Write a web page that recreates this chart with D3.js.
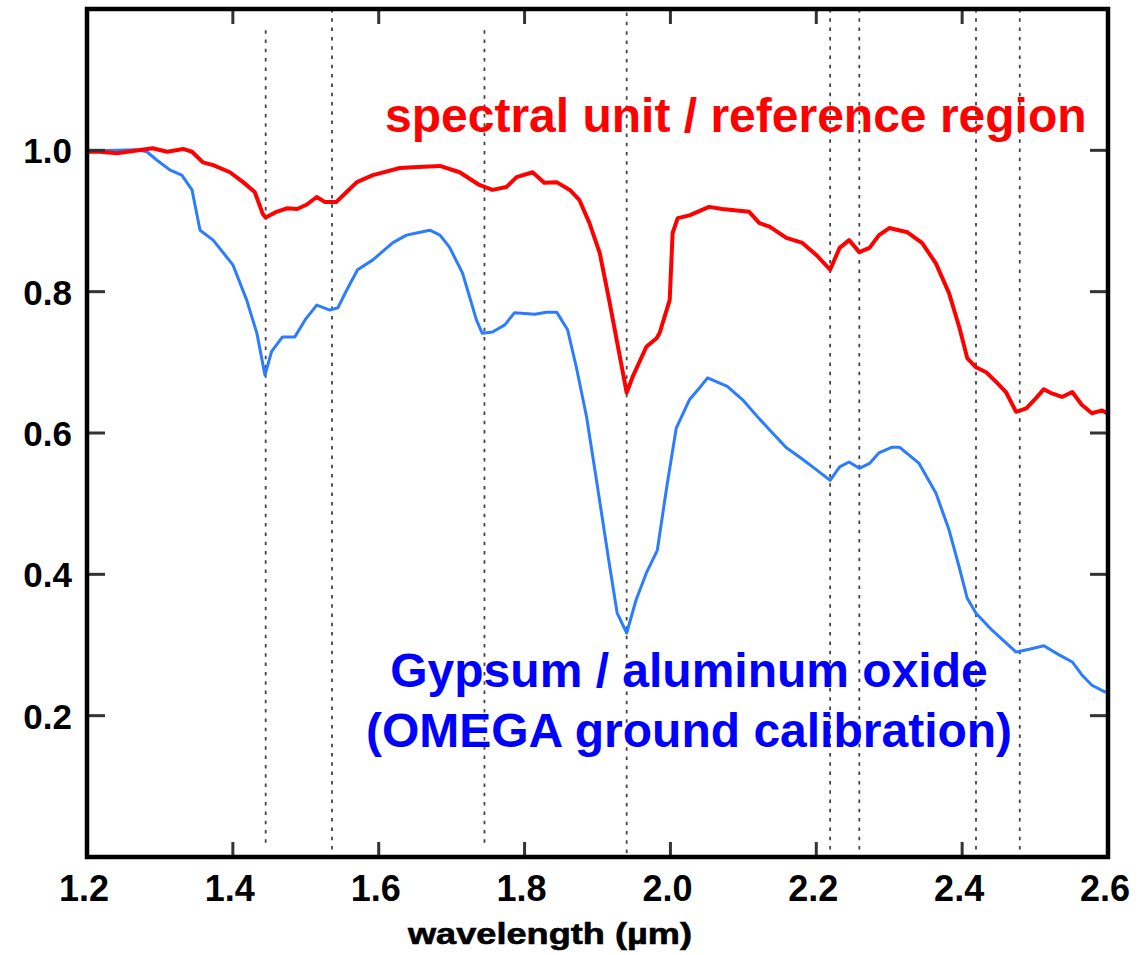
<!DOCTYPE html>
<html>
<head>
<meta charset="utf-8">
<script src="https://cdn.jsdelivr.net/npm/d3@7/dist/d3.min.js"></script>
<style>
  html, body { margin: 0; padding: 0; background: #fff; }
  svg { display: block; }
  text { font-family: "Liberation Sans", Arial, Helvetica, sans-serif; font-weight: bold; }
</style>
</head>
<body>
<svg id="chart" width="1143" height="955"></svg>
<script>
// ---- data ----
const redWavelength = [1.200,1.218,1.241,1.263,1.290,1.310,1.332,1.344,1.359,1.373,1.396,1.414,1.430,1.441,1.445,1.460,1.474,1.488,1.501,1.515,1.526,1.542,1.556,1.570,1.592,1.629,1.647,1.684,1.711,1.738,1.756,1.775,1.789,1.811,1.827,1.844,1.862,1.875,1.889,1.903,1.916,1.940,1.948,1.967,1.981,1.985,1.999,2.003,2.010,2.026,2.053,2.071,2.108,2.122,2.136,2.159,2.181,2.200,2.219,2.232,2.245,2.259,2.273,2.286,2.300,2.325,2.345,2.364,2.382,2.396,2.407,2.419,2.433,2.447,2.460,2.474,2.488,2.501,2.512,2.523,2.537,2.551,2.564,2.578,2.592,2.599];
const redReflectance = [0.998,0.998,0.996,0.999,1.003,0.998,1.002,0.998,0.983,0.979,0.969,0.955,0.941,0.910,0.905,0.913,0.918,0.917,0.923,0.934,0.927,0.927,0.941,0.955,0.965,0.975,0.976,0.978,0.969,0.951,0.944,0.948,0.962,0.969,0.954,0.955,0.944,0.930,0.897,0.855,0.788,0.657,0.679,0.722,0.734,0.741,0.788,0.883,0.904,0.908,0.920,0.917,0.913,0.897,0.892,0.876,0.869,0.852,0.831,0.862,0.873,0.856,0.862,0.880,0.890,0.884,0.869,0.840,0.798,0.750,0.706,0.693,0.686,0.672,0.658,0.630,0.635,0.649,0.662,0.656,0.651,0.658,0.640,0.628,0.632,0.628];

const blueWavelength = [1.200,1.241,1.268,1.282,1.296,1.314,1.330,1.344,1.355,1.373,1.400,1.419,1.433,1.444,1.453,1.468,1.485,1.499,1.515,1.533,1.544,1.556,1.571,1.592,1.619,1.638,1.652,1.670,1.684,1.697,1.715,1.734,1.742,1.756,1.773,1.786,1.814,1.830,1.844,1.859,1.871,1.885,1.900,1.916,1.927,1.940,1.953,1.967,1.982,1.995,2.008,2.026,2.040,2.051,2.078,2.099,2.122,2.140,2.159,2.177,2.195,2.219,2.232,2.245,2.259,2.273,2.286,2.304,2.314,2.341,2.364,2.382,2.396,2.407,2.419,2.441,2.474,2.492,2.512,2.533,2.551,2.564,2.578,2.597];
const blueReflectance = [0.999,1.000,1.001,0.998,0.986,0.972,0.965,0.944,0.887,0.873,0.838,0.788,0.741,0.682,0.715,0.736,0.736,0.760,0.781,0.774,0.777,0.802,0.831,0.845,0.869,0.880,0.883,0.887,0.880,0.863,0.826,0.760,0.741,0.743,0.753,0.770,0.768,0.771,0.771,0.746,0.693,0.623,0.524,0.416,0.345,0.317,0.364,0.402,0.434,0.524,0.607,0.647,0.664,0.678,0.666,0.647,0.620,0.600,0.579,0.566,0.552,0.533,0.552,0.559,0.550,0.557,0.572,0.580,0.580,0.557,0.515,0.463,0.410,0.366,0.345,0.321,0.290,0.294,0.299,0.286,0.276,0.258,0.243,0.233];

const bandCenters = [1.445, 1.536, 1.745, 1.940, 2.219, 2.259, 2.419, 2.479];
const bandTop     = [1.17,  1.2,   1.17,  1.195, 1.2,   1.2,   1.2,   1.2];
const bandBottom  = [0.017, 0.0,   0.014, 0.0,   0.005, 0.0,   0.005, 0.005];

const xTickLabels = ["1.2","1.4","1.6","1.8","2.0","2.2","2.4","2.6"];
const xTickMarks  = [1.4, 1.6, 1.8, 2.0, 2.2, 2.4];
const yTickLabels = ["0.2","0.4","0.6","0.8","1.0"];

const redLabel = "spectral unit / reference region";
const blueLabel = ["Gypsum / aluminum oxide", "(OMEGA ground calibration)"];
const xAxisTitle = "wavelength (\u00b5m)";

// ---- layout ----
const svg = d3.select("#chart");
const pLeft = 87, pRight = 1108, pTop = 9, pBottom = 857;

const x = d3.scaleLinear().domain([1.2, 2.6]).range([pLeft, pRight]);
const y = d3.scaleLinear().domain([0, 1.2]).range([pBottom, pTop]);

svg.append("rect").attr("width", 1143).attr("height", 955).attr("fill", "#fff");

// dotted band lines
svg.append("g").selectAll("line").data(bandCenters).join("line")
  .attr("x1", d => x(d)).attr("x2", d => x(d))
  .attr("y1", (d, i) => y(bandTop[i])).attr("y2", (d, i) => y(bandBottom[i]))
  .attr("stroke", "#444").attr("stroke-width", 1.8)
  .attr("stroke-dasharray", "3.5,5.8");

// curves
const line = d3.line().x(d => x(d[0])).y(d => y(d[1]));
const blueData = blueWavelength.map((w, i) => [w, blueReflectance[i]]);
const redData = redWavelength.map((w, i) => [w, redReflectance[i]]);

svg.append("path").datum(blueData).attr("d", line)
  .attr("fill", "none").attr("stroke", "#2b7cff").attr("stroke-width", 3)
  .attr("stroke-linejoin", "round");
svg.append("path").datum(redData).attr("d", line)
  .attr("fill", "none").attr("stroke", "#ff0000").attr("stroke-width", 4)
  .attr("stroke-linejoin", "round");

// ticks (inward, all four sides)
const tickCol = "#333";
const xTickLen = 15, yTickLen = 18;
const gx = svg.append("g");
gx.selectAll("line.b").data(xTickMarks).join("line").attr("class", "b")
  .attr("x1", d => x(d)).attr("x2", d => x(d))
  .attr("y1", pBottom).attr("y2", pBottom - xTickLen)
  .attr("stroke", tickCol).attr("stroke-width", 3);
gx.selectAll("line.t").data(xTickMarks).join("line").attr("class", "t")
  .attr("x1", d => x(d)).attr("x2", d => x(d))
  .attr("y1", pTop).attr("y2", pTop + xTickLen)
  .attr("stroke", tickCol).attr("stroke-width", 3);
const gy = svg.append("g");
gy.selectAll("line.l").data(yTickLabels).join("line").attr("class", "l")
  .attr("x1", pLeft).attr("x2", pLeft + yTickLen)
  .attr("y1", d => y(+d)).attr("y2", d => y(+d))
  .attr("stroke", tickCol).attr("stroke-width", 3);
gy.selectAll("line.r").data(yTickLabels).join("line").attr("class", "r")
  .attr("x1", pRight).attr("x2", pRight - yTickLen)
  .attr("y1", d => y(+d)).attr("y2", d => y(+d))
  .attr("stroke", tickCol).attr("stroke-width", 3);

// frame
svg.append("rect")
  .attr("x", pLeft).attr("y", pTop)
  .attr("width", pRight - pLeft).attr("height", pBottom - pTop)
  .attr("fill", "none").attr("stroke", "#000").attr("stroke-width", 4.5);

// tick labels
svg.append("g").selectAll("text").data(xTickLabels).join("text")
  .attr("x", d => x(+d) - 3).attr("y", 901)
  .attr("text-anchor", "middle").attr("font-size", 36).attr("fill", "#000")
  .text(d => d);
svg.append("g").selectAll("text").data(yTickLabels).join("text")
  .attr("x", 72).attr("y", d => y(+d) + 13)
  .attr("text-anchor", "end").attr("font-size", 35).attr("fill", "#000")
  .text(d => d);

// axis title
svg.append("text")
  .attr("x", 408).attr("y", 944)
  .attr("font-size", 30).attr("fill", "#000")
  .attr("stroke", "#000").attr("stroke-width", 0.6)
  .attr("textLength", 284).attr("lengthAdjust", "spacingAndGlyphs")
  .text(xAxisTitle);

// annotations
svg.append("text")
  .attr("x", 385).attr("y", 132)
  .attr("font-size", 48).attr("fill", "#ff0000")
  .text(redLabel);
svg.append("g").selectAll("text").data(blueLabel).join("text")
  .attr("x", 689).attr("y", (d, i) => 687 + i * 60)
  .attr("text-anchor", "middle").attr("font-size", 48).attr("fill", "#0000ff")
  .text(d => d);
</script>
</body>
</html>
